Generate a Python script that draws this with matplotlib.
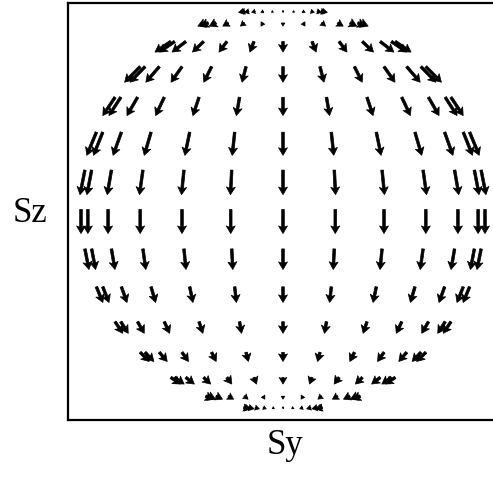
import numpy as np
import matplotlib
matplotlib.use("Agg")
import matplotlib.pyplot as plt

# polar angle (deg from +Sz) of each latitude row, top to bottom
theta_deg = [11.25, 22.5, 33.75, 45.0, 56.25, 67.5, 78.75, 90.0,
             101.25, 112.5, 123.75, 135.0, 146.25, 157.5, 168.75]
# azimuth (deg) of each meridian on the visible hemisphere, left to right
phi_deg = [-90, -75, -60, -45, -30, -15, 0, 15, 30, 45, 60, 75, 90]
# arrow magnitude per row (fraction of sphere radius)
speed = [0.025, 0.042, 0.094, 0.109, 0.109, 0.124, 0.124, 0.119,
         0.104, 0.084, 0.069, 0.064, 0.059, 0.040, 0.030]

x_label = "Sy"
y_label = "Sz"

W, H = 493, 483
fig = plt.figure(figsize=(W / 100, H / 100), dpi=100)
ax_l, ax_r, ax_t, ax_b = 68, 493, 2.5, 420
ax = fig.add_axes([ax_l / W, 1 - ax_b / H, (ax_r - ax_l) / W, (ax_b - ax_t) / H])

th = np.radians(np.array(theta_deg))[:, None]
ph = np.radians(np.array(phi_deg))[None, :]
s = np.array(speed)[:, None]

X = np.sin(th) * np.sin(ph)
Y = np.cos(th) * np.ones_like(ph)
U = s * np.cos(th) * np.sin(ph)
V = -s * np.sin(th) * np.ones_like(ph)

ax.quiver(X, Y, U, V, angles="xy", scale_units="xy", scale=1,
          color="black", edgecolor="black", linewidth=0.5,
          width=0.0062, headwidth=3.4, headlength=2.9,
          headaxislength=2.4, minlength=0.6, pivot="tail")

R = 202.0
cx, cy = 283.0, 209.5
ax.set_xlim((ax_l - cx) / R, (ax_r - cx) / R)
ax.set_ylim((cy - ax_b) / R, (cy - ax_t) / R)
ax.set_xticks([])
ax.set_yticks([])
for side in ["left", "top", "bottom"]:
    ax.spines[side].set_linewidth(1.6)
ax.spines["right"].set_visible(False)

font = dict(family=["Liberation Serif", "DejaVu Serif"], fontsize=25)
fig.text(30 / W, 1 - 213 / H, y_label, ha="center", va="center", **font)
fig.text(285 / W, 1 - 446 / H, x_label, ha="center", va="center", **font)

fig.savefig("out.png", dpi=100)
